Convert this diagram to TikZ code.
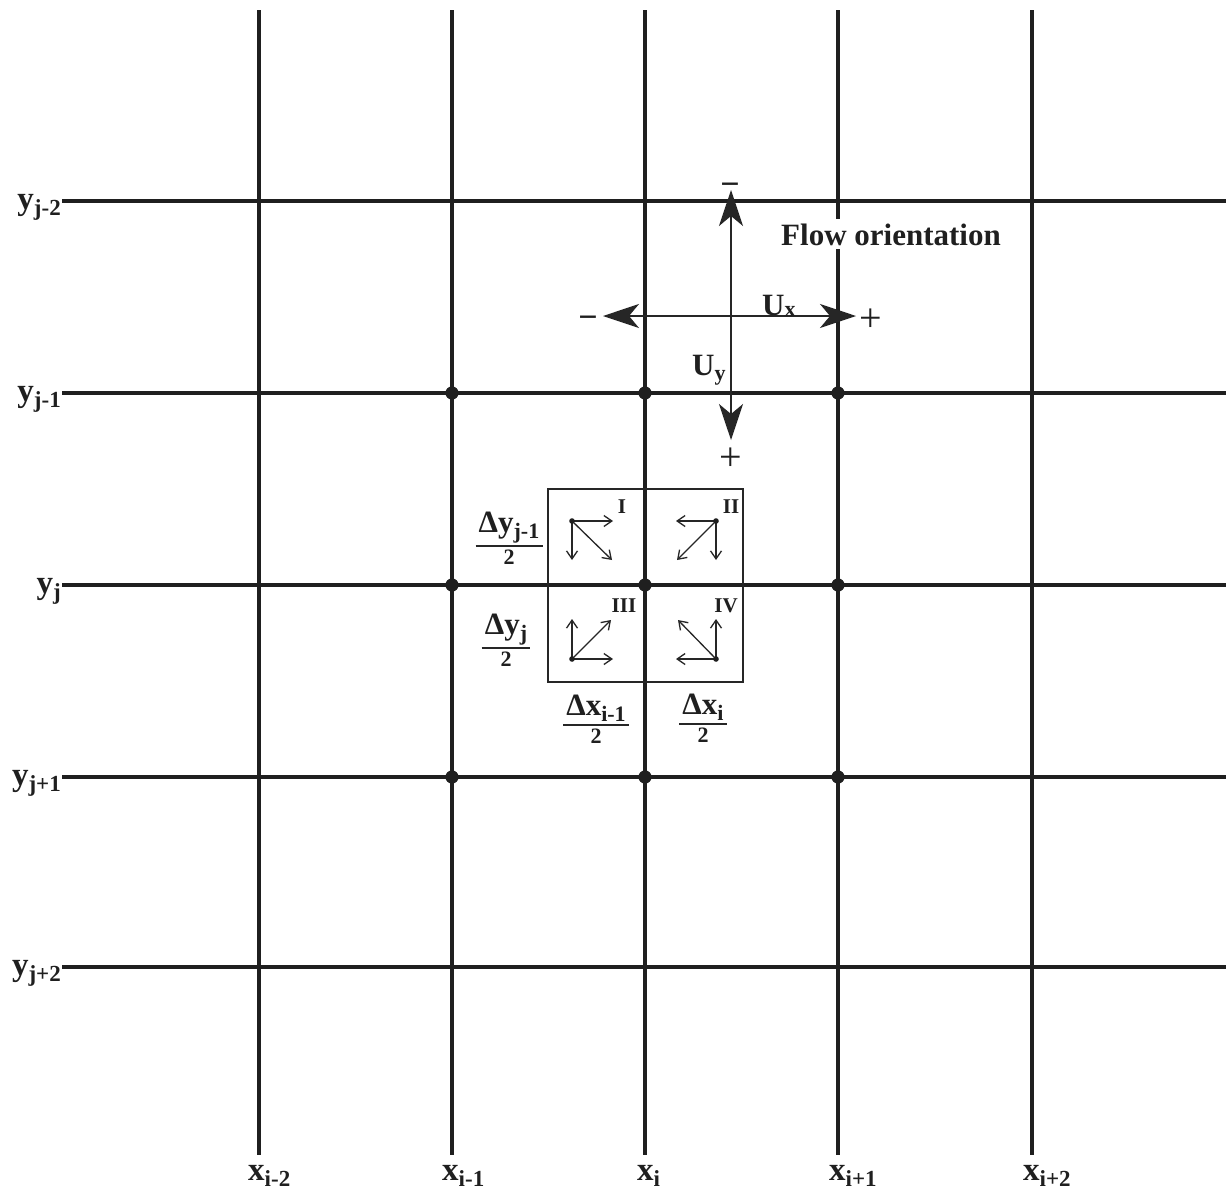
\documentclass[tikz,border=0pt]{standalone}
\usepackage{fontspec}
\setmainfont{Liberation Serif}
\usetikzlibrary{arrows.meta}
\newcommand\gridlab[2]{{\fontsize{33}{33}\selectfont\bfseries #1\raisebox{-6pt}{\fontsize{23}{23}\selectfont #2}}}
\newcommand\fraclab[2]{{\fontsize{31}{31}\selectfont\bfseries #1\raisebox{-6pt}{\fontsize{22}{22}\selectfont #2}}}
\begin{document}
\begin{tikzpicture}[x=1pt,y=-1pt,
  grid/.style={line width=3.1pt, draw=black!88},
  gdot/.style={fill=black!88},
  qarrow/.style={line width=1.3pt, draw=black!85, -{Straight Barb[length=8pt,width=11pt]}},
  flowarrow/.style={line width=1.4pt, draw=black!85, {Stealth[length=36pt,width=24pt,inset=10pt]}-{Stealth[length=36pt,width=24pt,inset=10pt]}},
  lab/.style={inner sep=0pt, text=black!88},
  num/.style={inner sep=0pt, text=black!88},
  den/.style={inner sep=0pt, text=black!88, font=\fontsize{22}{22}\selectfont\bfseries},
  roman/.style={inner sep=0pt, text=black!88, font=\fontsize{21}{21}\selectfont\bfseries},
  minussign/.style={inner sep=0pt, text=black!88, font=\fontsize{34}{34}\selectfont\bfseries},
  plussign/.style={inner sep=0pt, text=black!88, font=\fontsize{40}{40}\selectfont}]
\useasboundingbox (0,0) rectangle (1226,1197);
\fill[white] (0,0) rectangle (1226,1197);

% vertical grid lines
\foreach \n/\x in {1/259,2/452,3/645,4/838,5/1032}{
  \coordinate (vt\n) at (\x,10);
  \coordinate (vb\n) at (\x,1155);
  \draw[grid] (vt\n) -- (vb\n);
}
% horizontal grid lines
\foreach \n/\y in {1/201,2/393,3/585,4/777,5/967}{
  \coordinate (hl\n) at (62,\y);
  \coordinate (hr\n) at (1226,\y);
  \draw[grid] (hl\n) -- (hr\n);
}

% y labels
\node[lab, anchor=base east] (ya) at (61,209) {\gridlab{y}{j-2}};
\node[lab, anchor=base east] (yb) at (61,401) {\gridlab{y}{j-1}};
\node[lab, anchor=base east] (yc) at (61,593) {\gridlab{y}{j}};
\node[lab, anchor=base east] (yd) at (61,785) {\gridlab{y}{j+1}};
\node[lab, anchor=base east] (ye) at (61,975) {\gridlab{y}{j+2}};

% x labels
\node[lab, anchor=base west] (xa) at (248,1180) {\gridlab{x}{i-2}};
\node[lab, anchor=base west] (xb) at (442,1180) {\gridlab{x}{i-1}};
\node[lab, anchor=base west] (xc) at (637,1180) {\gridlab{x}{i}};
\node[lab, anchor=base west] (xd) at (829,1180) {\gridlab{x}{i+1}};
\node[lab, anchor=base west] (xe) at (1023,1180) {\gridlab{x}{i+2}};

% grid points
\foreach \x in {452,645,838}{
  \foreach \y in {393,585,777}{
    \fill[gdot] (\x,\y) circle (6.6);
  }
}

% control volume box
\draw[line width=1.5pt, draw=black!85] (548,489) rectangle (743,682);

% quadrant I
\coordinate (qI) at (572,521);
\coordinate (qIr) at (613,521);
\coordinate (qId) at (572,560);
\coordinate (qIg) at (612,560);
\draw[qarrow] (qI) -- (qIr);
\draw[qarrow] (qI) -- (qId);
\draw[qarrow] (qI) -- (qIg);
\fill[gdot] (qI) circle (2.8);
% quadrant II
\coordinate (qII) at (716,521);
\coordinate (qIIl) at (676,521);
\coordinate (qIId) at (716,560);
\coordinate (qIIg) at (677,560);
\draw[qarrow] (qII) -- (qIIl);
\draw[qarrow] (qII) -- (qIId);
\draw[qarrow] (qII) -- (qIIg);
\fill[gdot] (qII) circle (2.8);
% quadrant III
\coordinate (qIII) at (572,659);
\coordinate (qIIIu) at (572,619);
\coordinate (qIIIr) at (613,659);
\coordinate (qIIIg) at (611,620);
\draw[qarrow] (qIII) -- (qIIIu);
\draw[qarrow] (qIII) -- (qIIIr);
\draw[qarrow] (qIII) -- (qIIIg);
\fill[gdot] (qIII) circle (2.8);
% quadrant IV
\coordinate (qIV) at (716,659);
\coordinate (qIVu) at (716,619);
\coordinate (qIVl) at (676,659);
\coordinate (qIVg) at (678,620);
\draw[qarrow] (qIV) -- (qIVu);
\draw[qarrow] (qIV) -- (qIVl);
\draw[qarrow] (qIV) -- (qIVg);
\fill[gdot] (qIV) circle (2.8);

\node[roman] (rI) at (622,507) {I};
\node[roman] (rII) at (731,507) {II};
\node[roman] (rIII) at (624,606) {III};
\node[roman] (rIV) at (726,606) {IV};

% fractions
\node[num, anchor=south] (n1) at (509,543) {\fraclab{Δy}{j-1}};
\draw[line width=1.4pt, draw=black!85] ([xshift=-3pt,yshift=-3pt]n1.south west) -- ([xshift=3pt,yshift=-3pt]n1.south east);
\node[den, anchor=north] (d1) at ([yshift=-7pt]n1.south) {2};

\node[num, anchor=south] (n2) at (506,645) {\fraclab{Δy}{j}};
\draw[line width=1.4pt, draw=black!85] ([xshift=-3pt,yshift=-3pt]n2.south west) -- ([xshift=3pt,yshift=-3pt]n2.south east);
\node[den, anchor=north] (d2) at ([yshift=-7pt]n2.south) {2};

\node[num, anchor=south] (n3) at (596,722) {\fraclab{Δx}{i-1}};
\draw[line width=1.4pt, draw=black!85] ([xshift=-3pt,yshift=-3pt]n3.south west) -- ([xshift=3pt,yshift=-3pt]n3.south east);
\node[den, anchor=north] (d3) at ([yshift=-7pt]n3.south) {2};

\node[num, anchor=south] (n4) at (703,721) {\fraclab{Δx}{i}};
\draw[line width=1.4pt, draw=black!85] ([xshift=-3pt,yshift=-3pt]n4.south west) -- ([xshift=3pt,yshift=-3pt]n4.south east);
\node[den, anchor=north] (d4) at ([yshift=-7pt]n4.south) {2};

% flow orientation
\coordinate (fxl) at (603,316);
\coordinate (fxr) at (856,316);
\coordinate (fyt) at (731,190);
\coordinate (fyb) at (731,440);
\draw[flowarrow] (fxl) -- (fxr);
\draw[flowarrow] (fyt) -- (fyb);
\node[minussign] (sxm) at (588,322) {−};
\node[plussign] (sxp) at (871,320) {+};
\node[minussign] (sym) at (730,189) {−};
\node[plussign] (syp) at (731,459) {+};
\node[lab, anchor=base west] (ux) at (762,315) {{\fontsize{31}{31}\selectfont\bfseries U\raisebox{-1pt}{\fontsize{22}{22}\selectfont x}}};
\node[lab, anchor=base west] (uy) at (692,375) {{\fontsize{31}{31}\selectfont\bfseries U\raisebox{-5pt}{\fontsize{22}{22}\selectfont y}}};
\node[anchor=base west, fill=white, inner sep=4pt, text=black!88, font=\fontsize{31}{31}\selectfont\bfseries] (flow) at (777,245) {Flow orientation};
\end{tikzpicture}
\end{document}
